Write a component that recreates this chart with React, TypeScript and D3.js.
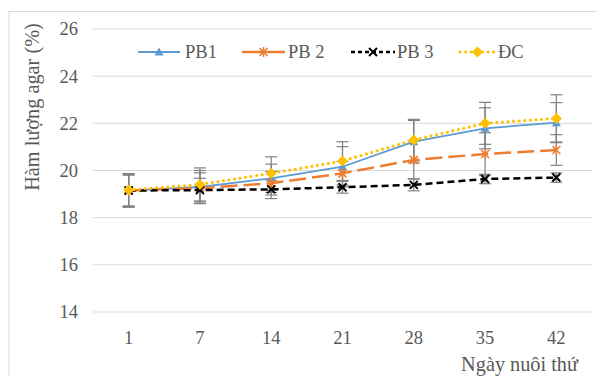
import React, { useEffect, useRef } from 'react';
import * as d3 from 'd3';

const days = ['1', '7', '14', '21', '28', '35', '42'];
const pb1 = [19.15, 19.3, 19.67, 20.16, 21.22, 21.79, 22.03];
const pb2 = [19.15, 19.25, 19.46, 19.88, 20.45, 20.7, 20.87];
const pb3 = [19.15, 19.17, 19.2, 19.29, 19.39, 19.64, 19.7];
const dc = [19.17, 19.41, 19.88, 20.4, 21.29, 22.0, 22.21];
const pb1Err = [0.7, 0.7, 0.6, 0.85, 0.9, 0.87, 0.85];
const pb2Err = [0.7, 0.65, 0.5, 0.5, 0.8, 0.9, 0.65];
const pb3Err = [0.65, 0.5, 0.39, 0.25, 0.25, 0.2, 0.2];
const dcErr = [0.7, 0.7, 0.7, 0.82, 0.88, 0.89, 1.0];
const yTicks = [14, 16, 18, 20, 22, 24, 26];

const W = 597;
const H = 376;
const FONT = '"Liberation Serif", "Times New Roman", serif';
const FS = 18.5;
const TITLE_FS = 20.3;

const App = () => {
  const svgRef = useRef<SVGSVGElement>(null);

  useEffect(() => {
    const svg = d3.select(svgRef.current);
    svg.selectAll('*').remove();

    const margin = { top: 29, right: 5, bottom: 64, left: 93 };
    const x = d3.scaleBand().domain(days).range([margin.left, W - margin.right]);
    const y = d3.scaleLinear().domain([14, 26]).range([H - margin.bottom, margin.top]);
    const cx = (d: string) => (x(d) as number) + x.bandwidth() / 2;

    // outer border (cropped on right / bottom)
    svg.append('rect')
      .attr('x', 9).attr('y', 11.5)
      .attr('width', 700).attr('height', 500)
      .attr('fill', 'white')
      .attr('stroke', '#d9d9d9');

    // gridlines
    svg.append('g')
      .selectAll('line')
      .data(yTicks)
      .enter().append('line')
      .attr('x1', margin.left).attr('x2', W - margin.right)
      .attr('y1', d => y(d)).attr('y2', d => y(d))
      .attr('stroke', '#d9d9d9')
      .attr('stroke-width', 1);

    // y tick labels
    svg.append('g')
      .selectAll('text')
      .data(yTicks)
      .enter().append('text')
      .attr('x', 78)
      .attr('y', d => y(d))
      .attr('dy', '0.35em')
      .attr('text-anchor', 'end')
      .attr('font-family', FONT)
      .attr('font-size', FS)
      .attr('fill', '#595959')
      .text(d => d);

    // x tick labels
    svg.append('g')
      .selectAll('text')
      .data(days)
      .enter().append('text')
      .attr('x', d => cx(d))
      .attr('y', 344)
      .attr('text-anchor', 'middle')
      .attr('font-family', FONT)
      .attr('font-size', FS)
      .attr('fill', '#595959')
      .text(d => d);

    // axis titles
    svg.append('text')
      .attr('x', 578).attr('y', 371)
      .attr('text-anchor', 'end')
      .attr('font-family', FONT)
      .attr('font-size', TITLE_FS)
      .attr('fill', '#595959')
      .text('Ngày nuôi thứ');

    svg.append('text')
      .attr('transform', `translate(39,${107}) rotate(-90)`)
      .attr('text-anchor', 'middle')
      .attr('font-family', FONT)
      .attr('font-size', TITLE_FS)
      .attr('fill', '#595959')
      .text('Hàm lượng agar (%)');

    const series = [
      { name: 'PB1', values: pb1, err: pb1Err, color: '#5B9BD5', dash: null, width: 1.8, marker: 'triangle' },
      { name: 'PB 2', values: pb2, err: pb2Err, color: '#ED7D31', dash: '17,6', width: 2.5, marker: 'star' },
      { name: 'PB 3', values: pb3, err: pb3Err, color: '#000000', dash: '7,4', width: 2.5, marker: 'x' },
      { name: 'ĐC', values: dc, err: dcErr, color: '#FFC000', dash: '0.1,5.5', width: 3, marker: 'diamond' },
    ];

    // error bars
    const eb = svg.append('g');
    series.forEach(s => {
      s.values.forEach((v, i) => {
        const px = cx(days[i]);
        eb.append('line')
          .attr('x1', px).attr('x2', px)
          .attr('y1', y(v - s.err[i])).attr('y2', y(v + s.err[i]))
          .attr('stroke', '#808080').attr('stroke-width', 1.2);
        [v - s.err[i], v + s.err[i]].forEach(e => {
          eb.append('line')
            .attr('x1', px - 6).attr('x2', px + 6)
            .attr('y1', y(e)).attr('y2', y(e))
            .attr('stroke', '#808080').attr('stroke-width', 1.2);
        });
      });
    });

    const drawMarker = (g: any, kind: string, px: number, py: number, color: string) => {
      if (kind === 'triangle') {
        g.append('path')
          .attr('d', `M${px},${py - 4.5}L${px + 4.5},${py + 3.5}L${px - 4.5},${py + 3.5}Z`)
          .attr('fill', color);
      } else if (kind === 'diamond') {
        g.append('path')
          .attr('d', `M${px},${py - 5.5}L${px + 5.5},${py}L${px},${py + 5.5}L${px - 5.5},${py}Z`)
          .attr('fill', color);
      } else if (kind === 'x') {
        g.append('path')
          .attr('d', `M${px - 4},${py - 4}L${px + 4},${py + 4}M${px - 4},${py + 4}L${px + 4},${py - 4}`)
          .attr('stroke', color).attr('stroke-width', 2).attr('fill', 'none');
      } else {
        g.append('path')
          .attr('d', `M${px - 4},${py - 4}L${px + 4},${py + 4}M${px - 4},${py + 4}L${px + 4},${py - 4}M${px},${py - 5}L${px},${py + 5}`)
          .attr('stroke', color).attr('stroke-width', 1.6).attr('fill', 'none');
      }
    };

    const line = d3.line<number>()
      .x((_, i) => cx(days[i]))
      .y(d => y(d));

    series.forEach(s => {
      const g = svg.append('g');
      g.append('path')
        .attr('d', line(s.values))
        .attr('fill', 'none')
        .attr('stroke', s.color)
        .attr('stroke-width', s.width)
        .attr('stroke-linecap', s.marker === 'diamond' ? 'round' : 'butt')
        .attr('stroke-dasharray', s.dash);
      s.values.forEach((v, i) => drawMarker(g, s.marker, cx(days[i]), y(v), s.color));
    });

    // legend
    const legendPos = [
      { x1: 138, x2: 180, tx: 185 },
      { x1: 242, x2: 285, tx: 288 },
      { x1: 351, x2: 395, tx: 397 },
      { x1: 460, x2: 495, tx: 498 },
    ];
    const ly = 52;
    series.forEach((s, i) => {
      const p = legendPos[i];
      const g = svg.append('g');
      g.append('line')
        .attr('x1', p.x1).attr('x2', p.x2)
        .attr('y1', ly).attr('y2', ly)
        .attr('stroke', s.color)
        .attr('stroke-width', s.width)
        .attr('stroke-linecap', s.marker === 'diamond' ? 'round' : 'butt')
        .attr('stroke-dasharray', s.marker === 'star' ? null : s.dash === '7,4' ? '4,3' : s.dash);
      drawMarker(g, s.marker, (p.x1 + p.x2) / 2, ly, s.color);
      g.append('text')
        .attr('x', p.tx).attr('y', ly)
        .attr('dy', '0.35em')
        .attr('font-family', FONT)
        .attr('font-size', FS)
        .attr('fill', '#595959')
        .text(s.name);
    });
  }, []);

  return (
    <svg
      ref={svgRef}
      width={W}
      height={H}
      style={{ position: 'absolute', left: 0, top: 0, background: 'white' }}
    ></svg>
  );
};

export default App;
